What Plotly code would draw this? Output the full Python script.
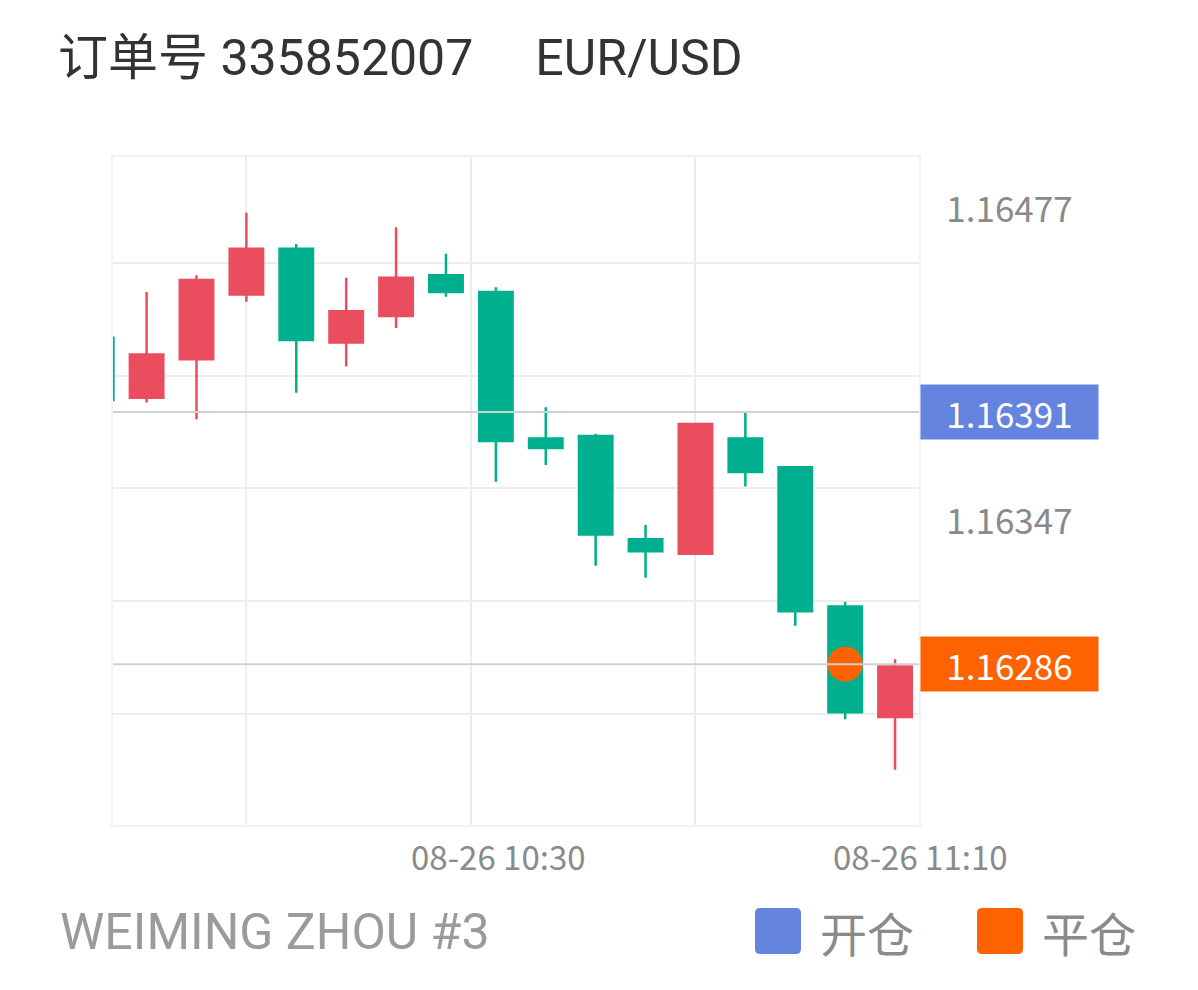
import plotly.graph_objects as go

# ---- data ----
times = [
    "2025-08-26 09:50", "2025-08-26 09:55", "2025-08-26 10:00", "2025-08-26 10:05",
    "2025-08-26 10:10", "2025-08-26 10:15", "2025-08-26 10:20", "2025-08-26 10:25",
    "2025-08-26 10:30", "2025-08-26 10:35", "2025-08-26 10:40", "2025-08-26 10:45",
    "2025-08-26 10:50", "2025-08-26 10:55", "2025-08-26 11:00", "2025-08-26 11:05",
    "2025-08-26 11:10",
]
opens = [1.16422, 1.16397, 1.16413, 1.16440, 1.16459, 1.16420, 1.16431, 1.16448, 1.16441,
         1.16380, 1.16381, 1.16338, 1.16332, 1.16380, 1.16368, 1.16310, 1.16264]
highs = [1.16428, 1.16441, 1.16448, 1.16474, 1.16461, 1.16447, 1.16468, 1.16457, 1.16443,
         1.16393, 1.16382, 1.16344, 1.16386, 1.16391, 1.16368, 1.16312, 1.16288]
lows = [1.16390, 1.16395, 1.16388, 1.16437, 1.16399, 1.16410, 1.16426, 1.16439, 1.16362,
        1.16369, 1.16327, 1.16322, 1.16332, 1.16360, 1.16302, 1.16263, 1.16242]
closes = [1.16396, 1.16415, 1.16446, 1.16459, 1.16421, 1.16433, 1.16447, 1.16441, 1.16379,
          1.16376, 1.16340, 1.16333, 1.16386, 1.16366, 1.16308, 1.16266, 1.16285]

open_price = 1.16391
close_price = 1.16286
close_time = "2025-08-26 11:05"
price_labels = [1.16477, 1.16347]
x_labels = ["08-26 10:30", "08-26 11:10"]
x_label_times = ["2025-08-26 10:30", "2025-08-26 11:10"]
x_grid = ["2025-08-26 10:05", "2025-08-26 10:27:30", "2025-08-26 10:50"]
y_grid = [1.164531, 1.164061, 1.163592, 1.163123, 1.162653]
title_text = "订单号 335852007\u00a0\u00a0\u00a0\u00a0\u00a0EUR/USD"
account_text = "WEIMING ZHOU #3"
legend_names = ["开仓", "平仓"]

RED = "#EA4E5E"
GREEN = "#00AF8D"
BLUE = "#6584E0"
ORANGE = "#FF6200"
LABEL_GREY = "#8A8A8A"
CJK = "Noto Sans CJK SC, Noto Sans, sans-serif"

# page body has an 8px margin -> figure drawn at (8, 8)
OFF = 8
FIG_W, FIG_H = 1198 - OFF, 990 - OFF
PL, PT, PR, PB = 113, 157, 919, 825   # plot area in page pixels

fig = go.Figure()
fig.add_trace(go.Candlestick(
    x=times, open=opens, high=highs, low=lows, close=closes,
    increasing=dict(line=dict(color=RED, width=2.5), fillcolor=RED),
    decreasing=dict(line=dict(color=GREEN, width=2.5), fillcolor=GREEN),
    whiskerwidth=0, showlegend=False, hoverinfo="skip",
))
fig.add_trace(go.Scatter(
    x=[close_time], y=[close_price], mode="markers",
    marker=dict(size=35, color=ORANGE), showlegend=False, hoverinfo="skip",
))

# price lines
for p in (open_price, close_price):
    fig.add_shape(type="line", xref="paper", x0=0, x1=1, yref="y", y0=p, y1=p,
                  line=dict(color="#D0D0D0", width=2), layer="above")

# right-side price tags
for p, c in ((open_price, BLUE), (close_price, ORANGE)):
    fig.add_annotation(xref="paper", x=1, xanchor="left", xshift=1, yref="y", y=p,
                       yanchor="middle", text=f"{p:.5f}", showarrow=False,
                       width=177, height=54, bgcolor=c, borderpad=0,
                       font=dict(family=CJK, size=35, color="white"))
for p in price_labels:
    fig.add_annotation(xref="paper", x=1, xanchor="left", xshift=1, yref="y", y=p,
                       yanchor="middle", text=f"{p:.5f}", showarrow=False,
                       width=177, height=54, borderpad=0,
                       font=dict(family=CJK, size=35, color=LABEL_GREY))

# x labels
fig.add_annotation(x=x_label_times[0], xref="x", xshift=3, yref="paper", y=0, yshift=-31,
                   yanchor="middle", text=x_labels[0], showarrow=False,
                   font=dict(family=CJK, size=33, color=LABEL_GREY))
fig.add_annotation(x=x_label_times[1], xref="x", xshift=25, yref="paper", y=0, yshift=-31,
                   yanchor="middle", text=x_labels[1], showarrow=False,
                   font=dict(family=CJK, size=33, color=LABEL_GREY))

# footer text (positions given in page pixels, converted to paper coords)
W, H = PR - PL, PB - PT
def px(x):
    return (x - PL) / W
def py(y):
    return (PB - y) / H

fig.add_annotation(xref="paper", yref="paper", x=px(58), y=py(932), xanchor="left",
                   yanchor="middle", text=account_text, showarrow=False,
                   font=dict(family="Roboto, sans-serif", size=50, color="#9B9B9B"))

ROUND_SQ = ("M -18,-23 L 18,-23 Q 23,-23 23,-18 L 23,18 Q 23,23 18,23 "
            "L -18,23 Q -23,23 -23,18 L -23,-18 Q -23,-23 -18,-23 Z")
for name, col, sx in ((legend_names[0], BLUE, 755), (legend_names[1], ORANGE, 977)):
    fig.add_shape(type="path", xref="paper", yref="paper",
                  xsizemode="pixel", ysizemode="pixel",
                  xanchor=px(sx + 23), yanchor=py(931), path=ROUND_SQ,
                  fillcolor=col, line=dict(width=0))
    fig.add_annotation(xref="paper", yref="paper", x=px(sx + 63), y=py(931),
                       xanchor="left", yanchor="middle", text=name, showarrow=False,
                       font=dict(family=CJK, size=47, color=LABEL_GREY))

fig.update_layout(
    width=FIG_W, height=FIG_H,
    margin=dict(l=PL - OFF, r=FIG_W - (PR - OFF), t=PT - OFF, b=FIG_H - (PB - OFF)),
    paper_bgcolor="white", plot_bgcolor="white",
    boxgap=0.33, boxgroupgap=0,
    title=dict(text=title_text, x=(58 - OFF) / FIG_W, xanchor="left",
               y=1 - (57 - OFF) / FIG_H, yanchor="middle",
               font=dict(family="Roboto, Noto Sans CJK SC, sans-serif", size=50, color="#333333")),
    xaxis=dict(type="date", range=["2025-08-26 09:51:38", "2025-08-26 11:12:24"],
               rangeslider=dict(visible=False), tickvals=x_grid, showticklabels=False,
               showgrid=True, gridcolor="#EDEDED", gridwidth=1.5, zeroline=False,
               showline=True, mirror=True, linecolor="#F2F2F2", linewidth=1.5, ticks=""),
    yaxis=dict(range=[1.16219, 1.1649725], tickvals=y_grid, showticklabels=False,
               showgrid=True, gridcolor="#EDEDED", gridwidth=1.5, zeroline=False,
               showline=True, mirror=True, linecolor="#F2F2F2", linewidth=1.5, ticks=""),
    showlegend=False,
)

fig.write_html("out.html")
